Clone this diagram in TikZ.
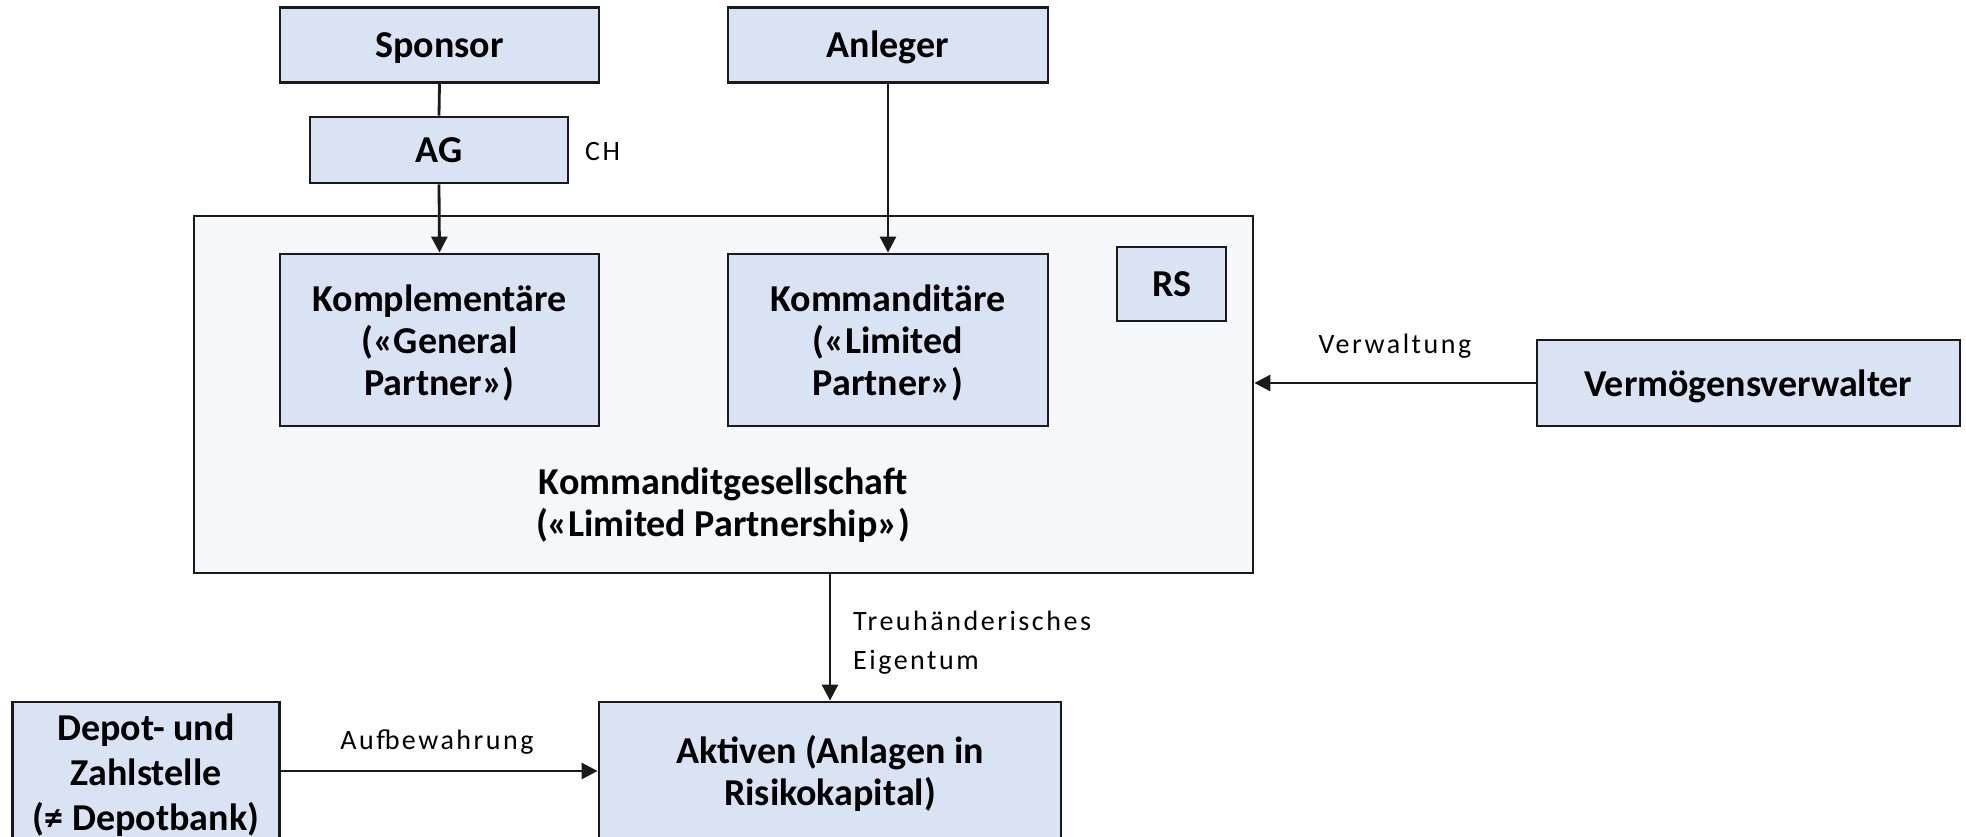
\documentclass[tikz,border=0pt]{standalone}
\usepackage{fontspec}
\setmainfont{Carlito}
\newfontfamily\lblfont[LetterSpace=9]{Carlito}
\usetikzlibrary{arrows.meta}
\definecolor{boxfill}{HTML}{DAE3F3}
\definecolor{kgfill}{HTML}{F5F7FB}
\definecolor{edge}{HTML}{1A1A1A}
\newcommand\fstrut[1][34pt]{\rule{0pt}{#1}}
\tikzset{
  boxtext/.style={inner sep=0pt, align=center,
    font=\bfseries\fontsize{38}{42}\selectfont,
    execute at begin node={\rule[-8pt]{0pt}{42pt}}},
  box/.style={boxtext, draw=edge, fill=boxfill, line width=2.8pt},
  bigbox/.style={draw=edge, fill=kgfill, line width=2.8pt, inner sep=0pt},
  lbl/.style={inner sep=0pt, font=\lblfont\fontsize{28}{39}\selectfont, align=left},
  conn/.style={draw=edge, line width=2.8pt},
  arr/.style={conn, -{Triangle[length=16pt,width=16pt]}},
}
\begin{document}
\begin{tikzpicture}[x=1pt,y=-1pt]
\useasboundingbox (0,0) rectangle (1966,837);
\clip (0,0) rectangle (1966,837);
\fill[white] (0,0) rectangle (1966,837);
% big box
\node[bigbox, minimum width=1059pt, minimum height=357pt] (kg) at (723.5,394.5) {};
\node[boxtext] (kglabel) at (723,502)
  {\fstrut Kommanditgesellschaft\\(«Limited Partnership»)};
% boxes
\node[box, minimum width=319pt, minimum height=75pt] (sponsor) at (439.5,45) {Sponsor};
\node[box, minimum width=258pt, minimum height=66pt] (ag) at (439,150) {AG};
\node[lbl, anchor=west] (ch) at (585,152) {CH};
\node[box, minimum width=320pt, minimum height=75pt] (anleger) at (888,45) {Anleger};
\node[box, minimum width=319pt, minimum height=172pt] (komp) at (439.5,340)
  {\fstrut Komplementäre\\(«General\\Partner»)};
\node[box, minimum width=320pt, minimum height=172pt] (kommd) at (888,340)
  {\fstrut Kommanditäre\\(«Limited\\Partner»)};
\node[box, minimum width=109pt, minimum height=74pt] (rs) at (1171.5,284) {RS};
\node[box, minimum width=423pt, minimum height=86pt] (verm) at (1748.5,383) {Vermögensverwalter};
\node[box, minimum width=462pt, minimum height=138pt] (aktiven) at (830,771)
  {\fstrut Aktiven (Anlagen in\\Risikokapital)};
\node[box, minimum width=267pt, minimum height=138pt, font=\bfseries\fontsize{38}{45}\selectfont] (depot) at (146,771)
  {\fstrut[36pt]Depot- und\\Zahlstelle\\(≠ Depotbank)};
% connectors
\draw[conn] (sponsor.south) -- (ag.north);
\draw[arr] (ag.south) -- (komp.north);
\draw[arr] (anleger.south) -- (kommd.north);
\draw[arr] (verm.west) -- (kg.east |- verm.west);
\node[lbl, anchor=center] (verwlbl) at (1395,346) {Verwaltung};
\draw[arr] (kg.south -| aktiven.north) -- (aktiven.north);
\node[lbl, anchor=west] (treulbl) at (853,643) {Treuhänderisches\\Eigentum};
\draw[arr] (depot.east) -- (aktiven.west);
\node[lbl, anchor=center] (aufblbl) at (437,742) {Aufbewahrung};
\end{tikzpicture}
\end{document}
